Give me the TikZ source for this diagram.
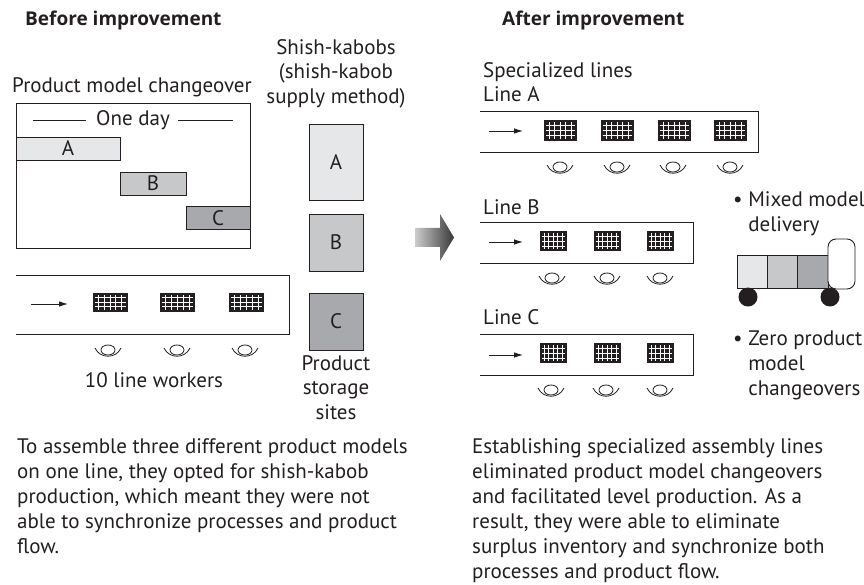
\documentclass[tikz,border=0pt]{standalone}
\usepackage{fontspec}
\setmainfont{PT Sans}
\newfontfamily\headfont{Open Sans}
\usetikzlibrary{calc,arrows.meta}

\definecolor{ink}{HTML}{231F20}
\definecolor{kaboblight}{HTML}{E6E7E8}
\definecolor{kabobmid}{HTML}{C7C8CA}
\definecolor{kabobdark}{HTML}{A7A9AC}

\tikzset{
  txt/.style={inner sep=0pt, text=ink, font=\fontsize{21}{24.5}\selectfont},
  para/.style={txt, align=left, anchor=north west, font=\fontsize{21}{25}\selectfont},
  heading/.style={txt, anchor=west, font=\headfont\fontsize{19}{24}\selectfont\bfseries},
  lineframe/.style={draw=ink, line width=0.9pt},
  bar/.style={lineframe, inner sep=0pt, minimum height=23pt},
  kabob/.style={lineframe, inner sep=0pt, minimum width=54pt},
  flow/.style={draw=ink, line width=0.9pt, -{Latex[length=9pt,width=5.5pt]}},
  workbox/.style={fill=ink, inner sep=0pt, minimum width=30pt, minimum height=20pt,
    path picture={
      \foreach \i in {1,...,5}
        \draw[white, line width=0.7pt, shorten <=2pt, shorten >=2pt]
          ($(path picture bounding box.north west)!\i/6!(path picture bounding box.north east)$) --
          ($(path picture bounding box.south west)!\i/6!(path picture bounding box.south east)$);
      \foreach \j in {1,2,3}
        \draw[white, line width=0.7pt, shorten <=2pt, shorten >=2pt]
          ($(path picture bounding box.north west)!\j/4!(path picture bounding box.south west)$) --
          ($(path picture bounding box.north east)!\j/4!(path picture bounding box.south east)$);
    }},
  worker/.pic={
    \draw[ink, line width=0.8pt] (0,-1) ellipse (7pt and 5pt);
    \draw[ink, line width=0.8pt] (-13,-3) .. controls (-8,8) and (8,8) .. (13,-3);
  }
}

\begin{document}
\begin{tikzpicture}[x=1pt, y=-1pt]

  \useasboundingbox (0,0) rectangle (864,585);

  % ---- before improvement ----
  \node[heading] (before) at (25,21) {Before improvement};
  \node[txt] (changeover) at (132,87) {Product model changeover};

  \node[lineframe, minimum width=234pt, minimum height=145pt] (dayframe) at (133,175.5) {};
  \node[txt] (oneday) at (133,120) {One day};
  \coordinate (dayL) at (33,120);
  \coordinate (dayR) at (233,120);
  \draw[ink, line width=0.8pt] (dayL) -- ([xshift=-10pt]oneday.west);
  \draw[ink, line width=0.8pt] ([xshift=8pt]oneday.east) -- (dayR);

  \begin{scope}[every node/.style={bar, txt, inner sep=0pt}]
    \node[bar, fill=kaboblight, minimum width=104pt] (barA) at (68,148.5) {A};
    \node[bar, fill=kabobmid,   minimum width=66pt]  (barB) at (153,183.5) {B};
    \node[bar, fill=kabobdark,  minimum width=64pt]  (barC) at (218,218) {C};
  \end{scope}

  % shared line, ten workers
  \draw[lineframe] (16,275) -- (289,275) -- (289,334) -- (16,334);
  \coordinate (inL0) at (31,304);
  \coordinate (inL1) at (68,304);
  \draw[flow] (inL0) -- (inL1);
  \begin{scope}[every node/.style={workbox, minimum width=35pt, minimum height=19pt}]
    \node (w1) at (110,302) {};
    \node (w2) at (177.5,302) {};
    \node (w3) at (246.5,302) {};
  \end{scope}
  \pic at (108,351) {worker};
  \pic at (177,351) {worker};
  \pic at (245,351) {worker};
  \node[txt] (workers) at (154,380) {10 line workers};

  % shish-kabob supply
  \node[txt, align=center, anchor=north] (kabobs) at (336,39) {Shish-kabobs\\(shish-kabob\\supply method)};
  \node[kabob, txt, fill=kaboblight, minimum height=76pt] (kA) at (336,162) {A};
  \node[kabob, txt, fill=kabobmid,   minimum height=57pt] (kB) at (336,242.5) {B};
  \node[kabob, txt, fill=kabobdark,  minimum height=57pt] (kC) at (336,321.5) {C};
  \node[txt, align=center, anchor=north] (storage) at (336,355) {Product\\storage\\sites};

  % big arrow
  \shade[left color=black!20, right color=black!78]
    (415,228) -- (440,228) -- (440,214) -- (454,237.5) -- (440,261) -- (440,247) -- (415,247) -- cycle;

  % ---- after improvement ----
  \node[heading] (after) at (502,21) {After improvement};
  \node[para, font=\fontsize{21}{24.5}\selectfont] (lineA) at (483,62) {Specialized lines\\Line A};

  \draw[lineframe] (480,111) -- (758,111) -- (758,152) -- (480,152);
  \coordinate (inA0) at (489,131);
  \coordinate (inA1) at (523,131);
  \draw[flow] (inA0) -- (inA1);
  \begin{scope}[every node/.style={workbox, minimum width=33pt, minimum height=21pt}]
    \node (a1) at (560,130.5) {};
    \node (a2) at (617,130.5) {};
    \node (a3) at (674,130.5) {};
    \node (a4) at (730,130.5) {};
  \end{scope}
  \foreach \x in {560,617,673,730}
    \pic at (\x,168) {worker};

  \node[txt, anchor=west] (lineB) at (483,207) {Line B};
  \draw[lineframe] (480,222) -- (693,222) -- (693,263) -- (480,263);
  \coordinate (inB0) at (489,242);
  \coordinate (inB1) at (523,242);
  \draw[flow] (inB0) -- (inB1);
  \begin{scope}[every node/.style={workbox, minimum width=27pt, minimum height=20pt}]
    \node (b1) at (553,241) {};
    \node (b2) at (607,241) {};
    \node (b3) at (660,241) {};
  \end{scope}
  \foreach \x in {552,607,660}
    \pic at (\x,279) {worker};

  \node[txt, anchor=west] (lineC) at (483,317) {Line C};
  \draw[lineframe] (480,334) -- (693,334) -- (693,375) -- (480,375);
  \coordinate (inC0) at (489,355);
  \coordinate (inC1) at (523,355);
  \draw[flow] (inC0) -- (inC1);
  \begin{scope}[every node/.style={workbox, minimum width=27pt, minimum height=20pt}]
    \node (c1) at (553,353) {};
    \node (c2) at (607,353) {};
    \node (c3) at (660,353) {};
  \end{scope}
  \foreach \x in {551,606,660}
    \pic at (\x,391) {worker};

  % mixed model delivery truck
  \node[para] (mixed) at (733,191) {\textbullet\ Mixed model\\\hphantom{\textbullet\ }delivery};
  \begin{scope}[every node/.style={lineframe, inner sep=0pt, minimum width=30pt, minimum height=33pt}]
    \node[fill=kaboblight] (cart1) at (752,271.5) {};
    \node[fill=kabobmid]   (cart2) at (782,271.5) {};
    \node[fill=kabobdark, minimum width=31pt] (cart3) at (812.5,271.5) {};
  \end{scope}
  \node[lineframe, fill=white, rounded corners=8pt, minimum width=27pt, minimum height=50pt] (cab) at (841.5,264) {};
  \node[circle, fill=ink, minimum size=19pt, inner sep=0pt] (wheel1) at (748,297) {};
  \node[circle, fill=ink, minimum size=19pt, inner sep=0pt] (wheel2) at (830,297) {};

  \node[para] (zero) at (733,331) {\textbullet\ Zero product\\\hphantom{\textbullet\ }model\\\hphantom{\textbullet\ }changeovers};

  % ---- captions ----
  \node[para] (capBefore) at (17,438) {To assemble three different product models\\on one line, they opted for shish-kabob\\production, which meant they were not\\able to synchronize processes and product\\flow.};
  \node[para] (capAfter) at (472,438) {Establishing specialized assembly lines\\eliminated product model changeovers\\and facilitated level production. As a\\result, they were able to eliminate\\surplus inventory and synchronize both\\processes and product flow.};

\end{tikzpicture}
\end{document}
